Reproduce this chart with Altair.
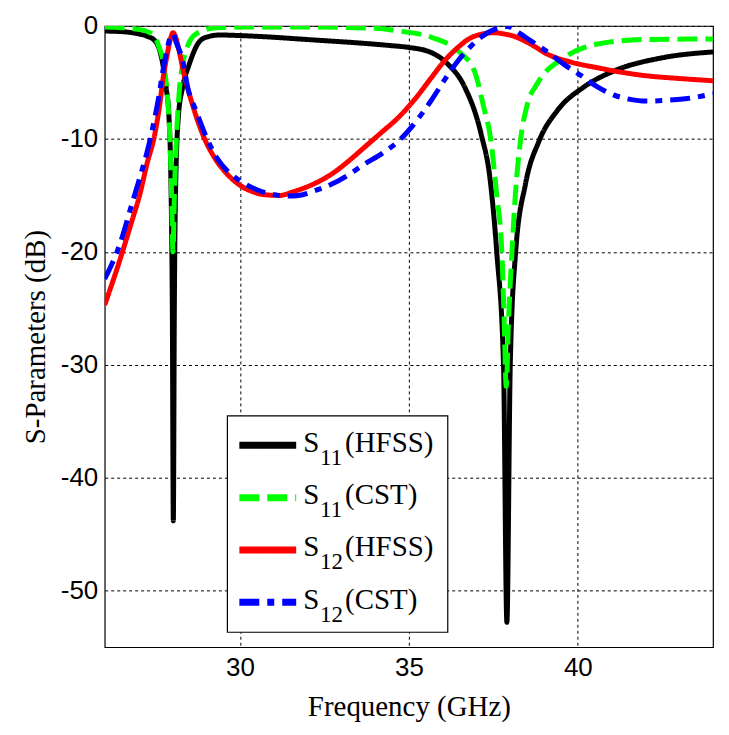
import altair as alt
import pandas as pd

# ---- data ----
s11_hfss_f = [26.0, 26.5, 27.0, 27.25, 27.48, 27.63, 27.72, 27.82, 27.9, 27.96, 28.0, 28.03, 28.06, 28.1,
              28.18, 28.3, 28.5, 28.75, 29.0, 29.4, 30.0, 31.0, 31.74, 32.5, 33.5, 34.5, 35.0, 35.66,
              36.16, 36.65, 37.14, 37.4, 37.6, 37.8, 37.9, 38.0, 38.16, 38.45, 38.85, 39.39, 40.18,
              41.06, 42.53, 44.0]
s11_hfss_v = [-0.45, -0.5, -0.7, -0.9, -1.3, -2.2, -3.4, -5.5, -8.0, -14.0, -25.0, -43.8, -25.0, -14.0,
              -8.0, -5.5, -3.4, -1.6, -1.0, -0.8, -0.85, -1.0, -1.15, -1.3, -1.5, -1.75, -1.9, -2.35,
              -3.4, -5.4, -9.6, -13.5, -20.0, -30.0, -52.8, -30.0, -20.0, -14.0, -10.2, -7.5, -5.4,
              -4.0, -2.8, -2.3]

s11_cst_f = [26.0, 26.5, 27.0, 27.4, 27.6, 27.75, 27.85, 27.93, 27.98, 28.02, 28.06, 28.12, 28.2, 28.3,
             28.45, 28.7, 29.3, 30.0, 32.0, 34.0, 34.69, 35.66, 36.45, 36.94, 37.2, 37.43, 37.6, 37.75,
             37.82, 37.88, 37.95, 38.05, 38.15, 38.3, 38.5, 38.8, 39.6, 40.58, 42.0, 44.0]
s11_cst_v = [-0.1, -0.15, -0.3, -0.7, -1.8, -3.5, -6.0, -10.0, -15.0, -20.0, -15.0, -10.0, -6.0, -3.5,
             -1.8, -0.7, -0.15, -0.1, -0.1, -0.2, -0.44, -1.0, -2.2, -4.0, -7.0, -10.2, -15.0, -20.0,
             -26.0, -31.9, -26.0, -20.0, -15.0, -10.2, -7.0, -5.1, -2.8, -1.6, -1.2, -1.15]

s12_hfss_f = [26.0, 26.45, 26.8, 27.04, 27.25, 27.48, 27.63, 27.72, 27.85, 27.95, 28.02, 28.1, 28.2,
              28.35, 28.56, 28.9, 29.3, 29.65, 30.0, 30.4, 30.76, 31.2, 31.55, 32.1, 32.72, 33.2, 33.7,
              34.2, 34.69, 35.2, 35.66, 36.05, 36.45, 36.8, 37.13, 37.53, 37.8, 38.1, 38.6, 39.1, 39.8,
              40.58, 41.3, 42.0, 43.0, 44.0]
s12_hfss_v = [-24.7, -20.7, -17.3, -14.9, -12.2, -9.6, -6.9, -4.8, -2.5, -1.1, -0.6, -1.0, -2.2,
              -4.3, -6.6, -9.6, -11.9, -13.2, -14.1, -14.7, -14.95, -15.0, -14.7, -14.1, -13.1, -12.0,
              -10.7, -9.4, -8.1, -6.4, -4.6, -3.1, -1.9, -1.1, -0.74, -0.6, -0.7, -0.9, -1.6, -2.5, -3.2,
              -3.7, -4.1, -4.4, -4.65, -4.85]

s12_cst_f = [26.0, 26.45, 26.8, 27.04, 27.25, 27.42, 27.58, 27.72, 27.85, 27.95, 28.02, 28.12, 28.31,
             28.46, 28.7, 29.0, 29.3, 29.65, 30.0, 30.5, 30.96, 31.35, 31.74, 32.2, 32.72, 33.2, 33.7,
             34.2, 34.69, 35.2, 35.66, 36.05, 36.45, 36.8, 37.13, 37.5, 37.92, 38.25, 38.6, 39.1, 39.59,
             40.1, 40.58, 41.05, 41.55, 42.0, 42.53, 43.3, 44.0]
s12_cst_v = [-22.4, -19.3, -15.8, -13.4, -11.2, -9.0, -6.6, -4.0, -2.0, -0.9, -0.7, -1.5, -3.1,
             -5.5, -7.5, -9.8, -11.6, -12.9, -13.7, -14.5, -14.9, -15.05, -15.0, -14.6, -14.0, -13.2,
             -12.2, -11.3, -10.2, -8.5, -6.6, -4.8, -3.1, -1.9, -1.0, -0.35, -0.05, -0.6, -1.3, -2.3,
             -3.4, -4.4, -5.4, -6.1, -6.5, -6.65, -6.6, -6.4, -6.0]

series_names = ["S11(HFSS)", "S11(CST)", "S12(HFSS)", "S12(CST)"]
series_colors = ["#000000", "#00ff00", "#ff0000", "#0000ff"]
series_dashes = [[1, 0], [20, 8], [1, 0], [20, 8, 7, 8]]
legend_sub = ["11", "11", "12", "12"]
legend_tool = ["(HFSS)", "(CST)", "(HFSS)", "(CST)"]

x_ticks = [30, 35, 40]
y_ticks = [0, -10, -20, -30, -40, -50]

rows = []
for name, fs, vs in zip(series_names,
                        [s11_hfss_f, s11_cst_f, s12_hfss_f, s12_cst_f],
                        [s11_hfss_v, s11_cst_v, s12_hfss_v, s12_cst_v]):
    for i, (f, v) in enumerate(zip(fs, vs)):
        rows.append({"series": name, "f": f, "db": v, "i": i})
df = pd.DataFrame(rows)

lines = alt.Chart(df).mark_line(strokeWidth=5, clip=True, interpolate="monotone").encode(
    x=alt.X("f:Q", scale=alt.Scale(domain=[26, 44], nice=False, zero=False),
            axis=alt.Axis(values=x_ticks, title="Frequency (GHz)", titlePadding=12,
                          labelPadding=7, labelExpr="datum.value + ''")),
    y=alt.Y("db:Q", scale=alt.Scale(domain=[-55, 0], nice=False, zero=False),
            axis=alt.Axis(values=y_ticks, title="S-Parameters (dB)", titlePadding=10,
                          labelPadding=7, labelExpr="datum.value + ''")),
    color=alt.Color("series:N", scale=alt.Scale(domain=series_names, range=series_colors), legend=None),
    strokeDash=alt.StrokeDash("series:N", scale=alt.Scale(domain=series_names, range=series_dashes),
                              legend=None),
    order=alt.Order("i:Q"),
    detail="series:N",
)

one = pd.DataFrame({"k": [0]})
layers = [lines]
# legend box
layers.append(alt.Chart(one).mark_rect(fill="white", stroke="black", strokeWidth=1.2).encode(
    x=alt.value(123), x2=alt.value(344), y=alt.value(391), y2=alt.value(608)))
for k in range(4):
    yl = 420.5 + 52.5 * k
    yb = 427 + 52.5 * k
    layers.append(alt.Chart(one).mark_rule(color=series_colors[k], strokeWidth=7,
                                           strokeDash=series_dashes[k]).encode(
        x=alt.value(135), x2=alt.value(192), y=alt.value(yl)))
    layers.append(alt.Chart(one).mark_text(text="S", font="Liberation Serif", fontSize=29,
                                           align="left", baseline="alphabetic", color="black").encode(
        x=alt.value(199), y=alt.value(yb)))
    layers.append(alt.Chart(one).mark_text(text=legend_sub[k], font="Liberation Serif", fontSize=23,
                                           align="left", baseline="alphabetic", color="black").encode(
        x=alt.value(216), y=alt.value(yb + 13)))
    layers.append(alt.Chart(one).mark_text(text=legend_tool[k], font="Liberation Serif", fontSize=29,
                                           align="left", baseline="alphabetic", color="black").encode(
        x=alt.value(241), y=alt.value(yb)))

chart = alt.layer(*layers).properties(
    width=610, height=623,
    autosize="none",
    padding={"left": 97, "top": 17, "right": 8, "bottom": 82},
    background="white",
).configure_view(
    stroke="black", strokeWidth=1.2
).configure_axis(
    domain=False, ticks=False,
    grid=True, gridColor="black", gridDash=[3, 3], gridWidth=1, gridOpacity=1,
    labelFont="Liberation Sans", labelFontSize=26, labelColor="black",
    titleFont="Liberation Serif", titleFontSize=29, titleFontWeight="normal", titleColor="black",
)

chart.save("out.html", embed_options={"renderer": "svg", "actions": False})
